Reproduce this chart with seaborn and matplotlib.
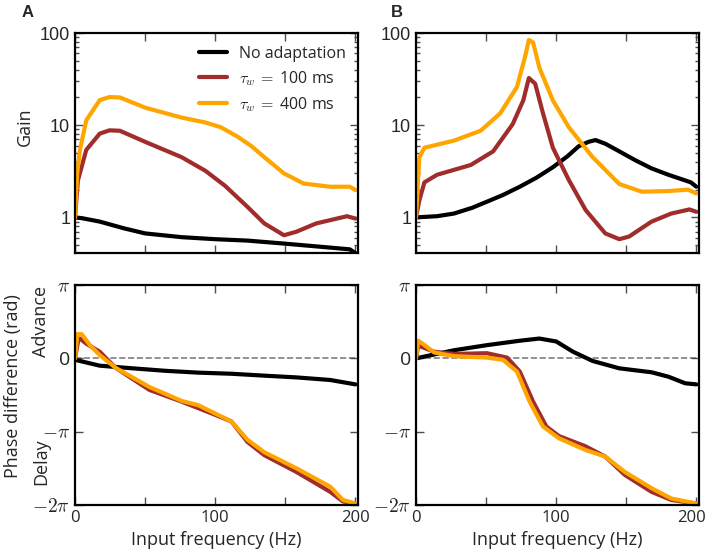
import numpy as np
import pandas as pd
import matplotlib
matplotlib.use("Agg")
import matplotlib.pyplot as plt
import matplotlib.ticker as mticker
import matplotlib.transforms as mtransforms
import seaborn as sns

# ---- data ----
# Panel A gain
a_gain_black_f = [0, 5, 17.6, 35, 50, 76, 100, 123, 149, 182, 196, 200]
a_gain_black = [1.0, 0.98, 0.90, 0.76, 0.67, 0.61, 0.58, 0.56, 0.52, 0.47, 0.45, 0.41]
a_gain_red_f = [0, 2, 8, 17.6, 24.6, 32, 50, 76, 93, 107, 123, 135, 149, 158, 172, 194, 200]
a_gain_red = [1.0, 2.5, 5.4, 8.1, 8.8, 8.7, 6.6, 4.5, 3.2, 2.2, 1.3, 0.86, 0.64, 0.70, 0.86, 1.03, 0.97]
a_gain_orange_f = [0, 1.5, 3.5, 8, 17.6, 24.6, 32, 50, 76, 93, 104, 116, 126, 135, 149, 163, 182, 196, 200]
a_gain_orange = [1.0, 3.0, 5.4, 11.3, 18.7, 20.2, 20.0, 15.5, 12.1, 10.7, 9.5, 7.5, 5.9, 4.5, 3.0, 2.33, 2.15, 2.15, 1.98]

# Panel B gain
b_gain_black_f = [0, 15, 27, 40, 50.6, 62, 74, 86, 97.6, 108, 116, 123, 128, 135, 145, 156, 168, 180, 196, 200]
b_gain_black = [1.0, 1.03, 1.1, 1.27, 1.48, 1.75, 2.15, 2.7, 3.5, 4.6, 5.9, 6.6, 6.9, 6.3, 5.2, 4.2, 3.4, 2.9, 2.4, 2.15]
b_gain_red_f = [0, 2.4, 6, 15, 39, 55, 69, 76.5, 80.5, 85, 90.6, 97.6, 109, 121, 135, 145, 152, 168, 182, 195, 200]
b_gain_red = [1.0, 1.54, 2.4, 2.9, 3.7, 5.2, 10.3, 18.6, 32.5, 28.2, 13.4, 5.7, 2.54, 1.2, 0.67, 0.58, 0.62, 0.9, 1.1, 1.22, 1.15]
b_gain_orange_f = [0, 2.4, 6, 27, 46, 60, 72, 77.6, 80.5, 83.5, 88, 97.6, 109, 126, 145, 161, 180, 194, 200]
b_gain_orange = [1.0, 4.5, 5.7, 6.8, 8.7, 13.4, 26, 54, 84, 79, 42, 18.6, 9.5, 4.5, 2.3, 1.9, 1.93, 2.0, 1.82]

# Panel A phase (units of pi)
a_ph_black_f = [0, 17.6, 41, 64.5, 88, 111.5, 135, 158, 182, 200]
a_ph_black = [-0.02, -0.10, -0.136, -0.17, -0.195, -0.21, -0.236, -0.26, -0.295, -0.355]
a_ph_red_f = [0, 2.3, 3.5, 8, 17.6, 29, 53, 76, 100, 111.5, 123, 135, 158, 182, 191, 200]
a_ph_red = [0, 0.25, 0.27, 0.20, 0.09, -0.13, -0.43, -0.59, -0.77, -0.86, -1.14, -1.32, -1.55, -1.82, -1.95, -1.98]
a_ph_orange_f = [0, 1.6, 4.7, 10.6, 17.6, 29, 53, 76, 88, 111.5, 123, 135, 158, 182, 191, 200]
a_ph_orange = [0, 0.33, 0.33, 0.18, 0.045, -0.13, -0.39, -0.58, -0.64, -0.86, -1.11, -1.28, -1.50, -1.75, -1.93, -1.98]

# Panel B phase (units of pi)
b_ph_black_f = [0, 27, 50.6, 74, 88, 100, 112, 126, 145, 168, 180, 192, 200]
b_ph_black = [0, 0.11, 0.18, 0.24, 0.27, 0.23, 0.09, -0.036, -0.136, -0.19, -0.25, -0.34, -0.355]
b_ph_red_f = [0, 1.6, 3.5, 13, 27, 50.6, 65, 74, 83.5, 93, 102, 121, 135, 149, 168, 182, 200]
b_ph_red = [0, 0.18, 0.16, 0.09, 0.06, 0.07, 0.01, -0.18, -0.59, -0.93, -1.06, -1.20, -1.34, -1.59, -1.82, -1.93, -1.98]
b_ph_orange_f = [0, 1.6, 4.7, 13, 27, 50.6, 62, 72, 81, 90.6, 102, 121, 135, 149, 168, 182, 200]
b_ph_orange = [0, 0.24, 0.20, 0.08, 0.03, 0.01, -0.02, -0.18, -0.59, -0.93, -1.09, -1.25, -1.34, -1.55, -1.77, -1.91, -1.98]

labels = ["No adaptation", r"$\tau_w\,=$ 100 ms", r"$\tau_w\,=$ 400 ms"]
colors = ["black", "#a02c2c", "#ffa500"]


def to_frame(series):
    rows = []
    for lab, (f, v) in zip(labels, series):
        rows.append(pd.DataFrame({"freq": f, "value": v, "cond": lab}))
    return pd.concat(rows, ignore_index=True)


gain_a = to_frame([(a_gain_black_f, a_gain_black), (a_gain_red_f, a_gain_red), (a_gain_orange_f, a_gain_orange)])
gain_b = to_frame([(b_gain_black_f, b_gain_black), (b_gain_red_f, b_gain_red), (b_gain_orange_f, b_gain_orange)])
ph_a = to_frame([(a_ph_black_f, a_ph_black), (a_ph_red_f, a_ph_red), (a_ph_orange_f, a_ph_orange)])
ph_b = to_frame([(b_ph_black_f, b_ph_black), (b_ph_red_f, b_ph_red), (b_ph_orange_f, b_ph_orange)])
for d in (ph_a, ph_b):
    d["value"] = d["value"] * np.pi

sns.set_style("ticks")
plt.rcParams["font.family"] = ["Open Sans", "DejaVu Sans"]
plt.rcParams["mathtext.fontset"] = "cm"
plt.rcParams["xtick.direction"] = "in"
plt.rcParams["ytick.direction"] = "in"

fig = plt.figure(figsize=(7.08, 5.55), dpi=100)
ax_ga = fig.add_axes([0.106, 0.544, 0.400, 0.3965])
ax_gb = fig.add_axes([0.5876, 0.544, 0.400, 0.3965])
ax_pa = fig.add_axes([0.106, 0.090, 0.400, 0.3965])
ax_pb = fig.add_axes([0.5876, 0.090, 0.400, 0.3965])

pal = dict(zip(labels, colors))
for ax, d in [(ax_ga, gain_a), (ax_gb, gain_b), (ax_pa, ph_a), (ax_pb, ph_b)]:
    sns.lineplot(data=d, x="freq", y="value", hue="cond", palette=pal, hue_order=labels,
                 linewidth=3, sort=False, ax=ax, legend=(ax is ax_ga))
    ax.set_xlim(0, 202)
    ax.xaxis.set_major_locator(mticker.MultipleLocator(50))
    ax.tick_params(which="both", top=True, right=True, labelsize=12, width=1, color="0.3")
    ax.tick_params(which="major", length=6)
    ax.tick_params(which="minor", length=3)
    for s in ax.spines.values():
        s.set_linewidth(1.6)
        s.set_color("black")
    ax.set_xlabel("")
    ax.set_ylabel("")

for ax in (ax_ga, ax_gb):
    ax.set_yscale("log")
    ax.set_ylim(0.41, 100)
    ax.yaxis.set_major_locator(mticker.FixedLocator([1, 10, 100]))
    ax.yaxis.set_major_formatter(mticker.FixedFormatter(["1", "10", "100"]))
    ax.set_xticklabels([])
    for t in ax.get_yticklabels():
        t.set_fontfamily("Liberation Sans")
        t.set_fontsize(13)

for ax in (ax_pa, ax_pb):
    ax.axhline(0, color="0.5", linestyle="--", linewidth=1.2, zorder=0)
    ax.set_ylim(-2 * np.pi, np.pi)
    ax.set_yticks([np.pi, 0, -np.pi, -2 * np.pi])
    ax.set_yticklabels([r"$\pi$", "0", r"$-\pi$", r"$-2\pi$"], fontsize=14)
    ax.set_xticks([0, 50, 100, 150, 200])
    ax.set_xticklabels(["0", "", "100", "", "200"], fontsize=12)
    ax.set_xlabel("Input frequency (Hz)", fontsize=13, labelpad=4)

# keep the last "200" inside the canvas
last = ax_pb.get_xticklabels()[-1]
last.set_transform(last.get_transform() + mtransforms.ScaledTranslation(-5 / 100, 0, fig.dpi_scale_trans))

leg = ax_ga.legend(loc="upper right", frameon=False, fontsize=11.5, handlelength=1.75,
                   handletextpad=0.7, borderaxespad=0.4, labelspacing=0.45)
for line in leg.get_lines():
    line.set_linewidth(3)

fig.text(0.035, 0.771, "Gain", rotation=90, fontsize=13, ha="center", va="center")
fig.text(0.019, 0.305, "Phase difference (rad)", rotation=90, fontsize=13, ha="center", va="center")
fig.text(0.058, 0.42, "Advance", rotation=90, fontsize=13, ha="center", va="center")
fig.text(0.058, 0.168, "Delay", rotation=90, fontsize=13, ha="center", va="center")

fig.text(0.030, 0.978, "A", fontsize=12, fontweight="bold", fontfamily="Liberation Sans", va="center")
fig.text(0.552, 0.978, "B", fontsize=12, fontweight="bold", fontfamily="Liberation Sans", va="center")

fig.savefig("out.png", dpi=100)
